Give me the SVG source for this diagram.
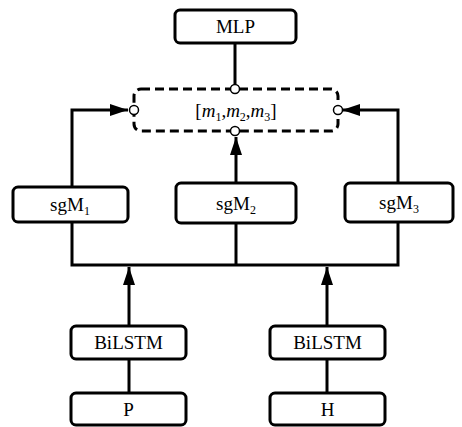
<svg xmlns="http://www.w3.org/2000/svg" width="462" height="427" viewBox="0 0 462 427">
<style>
.box{fill:#fff;stroke:#000;stroke-width:3}
.t{font-family:"Liberation Serif",serif;font-size:19px;text-anchor:middle;fill:#000}
.s{font-size:12px}
.ln{fill:none;stroke:#000;stroke-width:3}
.dot{fill:#fff;stroke:#000;stroke-width:1.5}
</style>
<defs>
<marker id="ah" viewBox="0 0 12 18" refX="12" refY="9" markerWidth="12" markerHeight="18" markerUnits="userSpaceOnUse" orient="auto"><path d="M0,0 L12,9 L0,18 Z" transform="rotate(0)" fill="#000"/></marker>
<marker id="av" viewBox="0 0 18 12" refX="18" refY="6" markerWidth="18" markerHeight="12" markerUnits="userSpaceOnUse" orient="auto"><path d="M0,0 L18,6 L0,12 Z" fill="#000"/></marker>
</defs>
<g id="connectors">
<path class="ln" d="M235,43 V85"/>
<path class="ln" d="M72,187 V110 H128" marker-end="url(#av)"/>
<path class="ln" d="M398,183 V110 H342" marker-end="url(#av)"/>
<path class="ln" d="M236,183 V137" marker-end="url(#av)"/>
<path class="ln" d="M72,222 V265 H398 V222"/>
<path class="ln" d="M236,223 V265"/>
<path class="ln" d="M129,326 V267" marker-end="url(#av)"/>
<path class="ln" d="M327,326 V267" marker-end="url(#av)"/>
<path class="ln" d="M129,359 V393"/>
<path class="ln" d="M327,359 V393"/>
</g>
<g id="mlp"><rect class="box" x="175" y="10" width="121" height="33" rx="5"/><text class="t" x="235.5" y="33">MLP</text></g>
<g id="concat">
<rect x="134" y="89" width="204" height="42" rx="7" fill="#fff" stroke="#000" stroke-width="3" stroke-dasharray="9,5"/>
<text class="t" x="236" y="117" font-style="italic"><tspan font-style="normal">[</tspan>m<tspan class="s" dy="4" font-style="normal">1</tspan><tspan dy="-4" font-style="normal">,</tspan>m<tspan class="s" dy="4" font-style="normal">2</tspan><tspan dy="-4" font-style="normal">,</tspan>m<tspan class="s" dy="4" font-style="normal">3</tspan><tspan dy="-4" font-style="normal">]</tspan></text>
<circle class="dot" cx="235" cy="89" r="4.5"/>
<circle class="dot" cx="235" cy="131" r="4.5"/>
<circle class="dot" cx="134" cy="110" r="4.5"/>
<circle class="dot" cx="338" cy="110" r="4.5"/>
</g>
<g id="sgm1"><rect class="box" x="13" y="187" width="115" height="35" rx="5"/><text class="t" x="70" y="211">sgM<tspan class="s" dy="4">1</tspan></text></g>
<g id="sgm2"><rect class="box" x="176" y="183" width="120" height="40" rx="5"/><text class="t" x="236" y="210">sgM<tspan class="s" dy="4">2</tspan></text></g>
<g id="sgm3"><rect class="box" x="345" y="183" width="108" height="39" rx="5"/><text class="t" x="399" y="209">sgM<tspan class="s" dy="4">3</tspan></text></g>
<g id="bilstm1"><rect class="box" x="71" y="326" width="115" height="33" rx="5"/><text class="t" x="128.5" y="349">BiLSTM</text></g>
<g id="bilstm2"><rect class="box" x="270" y="326" width="115" height="33" rx="5"/><text class="t" x="327.5" y="349">BiLSTM</text></g>
<g id="p"><rect class="box" x="71" y="393" width="115" height="32" rx="5"/><text class="t" x="128.5" y="416">P</text></g>
<g id="h"><rect class="box" x="270" y="393" width="115" height="32" rx="5"/><text class="t" x="327.5" y="416">H</text></g>
</svg>
